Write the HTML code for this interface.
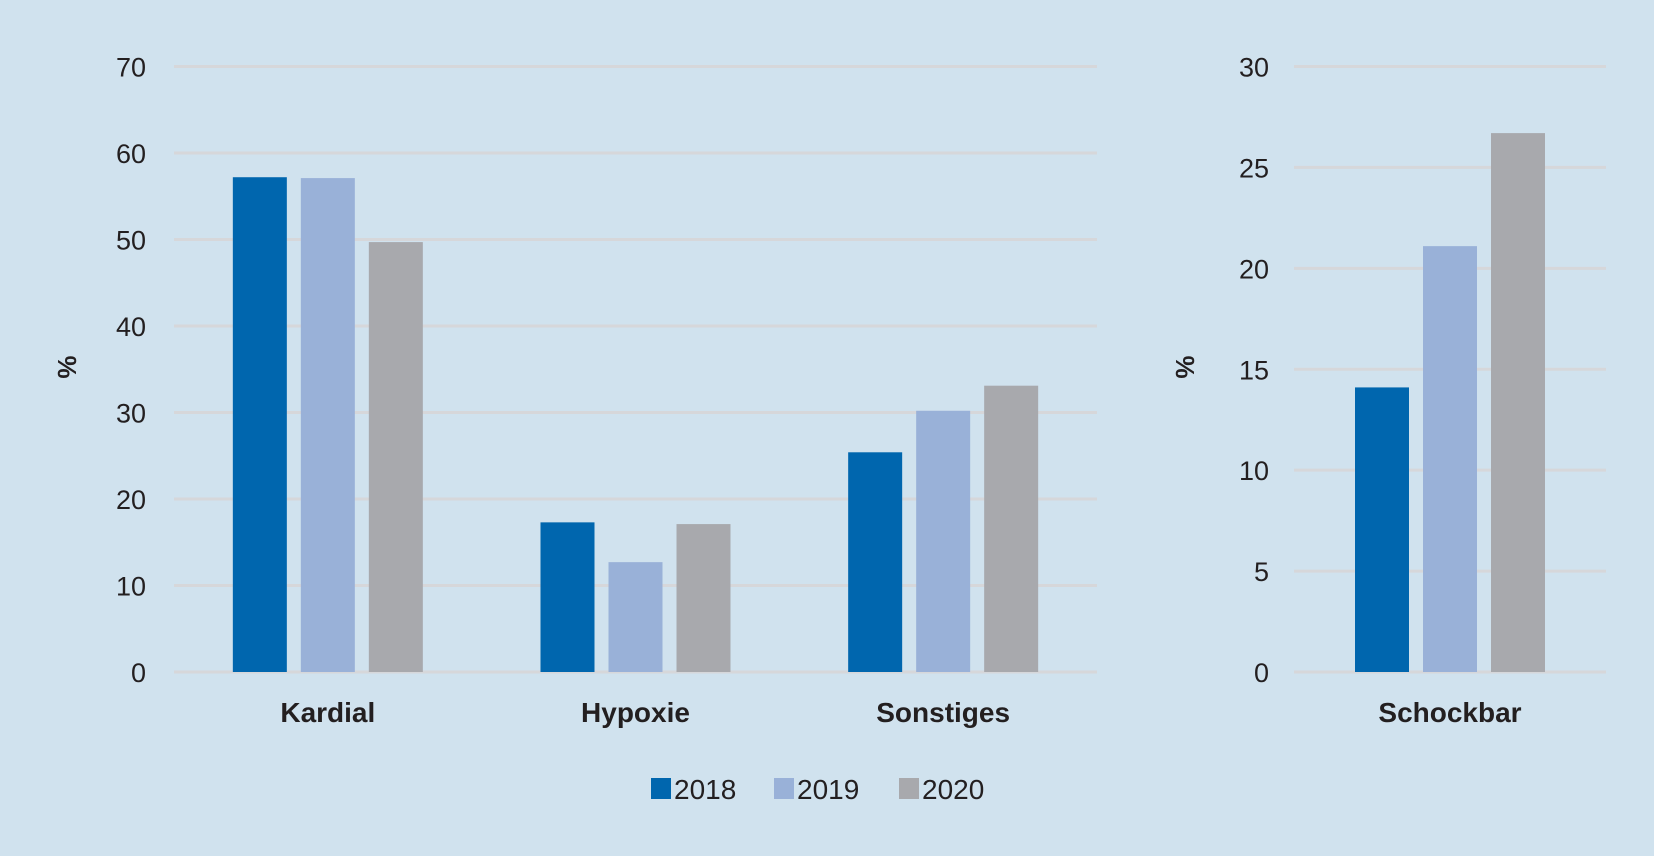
<!DOCTYPE html>
<html><head><meta charset="utf-8"><style>
html,body{margin:0;padding:0;background:#d0e2ee;}
svg{display:block;font-family:"Liberation Sans",sans-serif;}
</style></head><body>
<svg id="c" width="1654" height="856" viewBox="0 0 1654 856"></svg>
<script>
const categories=["Kardial","Hypoxie","Sonstiges"];
const s2018=[57.2,17.3,25.4];
const s2019=[57.1,12.7,30.2];
const s2020=[49.7,17.1,33.1];
const rightCategories=["Schockbar"];
const r2018=[14.1];
const r2019=[21.1];
const r2020=[26.7];
const leftTicks=[0,10,20,30,40,50,60,70];
const rightTicks=[0,5,10,15,20,25,30];
const seriesNames=["2018","2019","2020"];
const colors=["#0066ae","#99b1d8","#a8a9ad"];
const NS="http://www.w3.org/2000/svg";
const svg=document.getElementById('c');
function mk(t,a,p){const e=document.createElementNS(NS,t);for(const k in a)e.setAttribute(k,a[k]);(p||svg).appendChild(e);return e;}
const y0=672,yTop=66.5;
function panel(x0,x1,maxV,ticks,cats,series,labelX,pctX,name){
  const g=mk('g',{});
  
  
  const y=v=>y0-(v/maxV)*(y0-yTop);
  ticks.forEach(t=>{
    const l=mk('line',{x1:x0,x2:x1,y1:y(t),y2:y(t),stroke:'#d6d7da','stroke-width':3},g);
    
    
    const tx=mk('text',{x:labelX,y:y(t)+10,'text-anchor':'end','font-size':27,fill:'#231f20'},g);
    tx.textContent=t;
    
    
  });
  const p=mk('text',{x:pctX,y:367,'text-anchor':'middle','font-size':26,'font-weight':'bold',fill:'#231f20',transform:`rotate(-90 ${pctX} 367)`},g);
  p.textContent='%';
  
  
  const cw=(x1-x0)/cats.length,bw=54,step=68;
  cats.forEach((c,i)=>{
    const cx=x0+cw*(i+0.5);
    series.forEach((s,j)=>{
      const bx=cx+(j-1)*step-bw/2;
      const r=mk('rect',{x:bx,y:y(s[i]),width:bw,height:y0-y(s[i]),fill:colors[j]},g);
      
      
    });
    const t=mk('text',{x:cx,y:722,'text-anchor':'middle','font-size':28,'font-weight':'bold',fill:'#231f20'},g);
    t.textContent=c;
    
    
  });
}
panel(174,1097,70,leftTicks,categories,[s2018,s2019,s2020],146,76,'left-panel');
panel(1294,1606,30,rightTicks,rightCategories,[r2018,r2019,r2020],1269,1194,'right-panel');
const lg=mk('g',{});


const lx=[651,774,899];
seriesNames.forEach((n,i)=>{
  const r=mk('rect',{x:lx[i],y:778,width:20,height:21,fill:colors[i]},lg);
  
  
  const t=mk('text',{x:lx[i]+23,y:799,'font-size':28,fill:'#231f20'},lg);
  t.textContent=n;
  
  
});
</script>
</body></html>
